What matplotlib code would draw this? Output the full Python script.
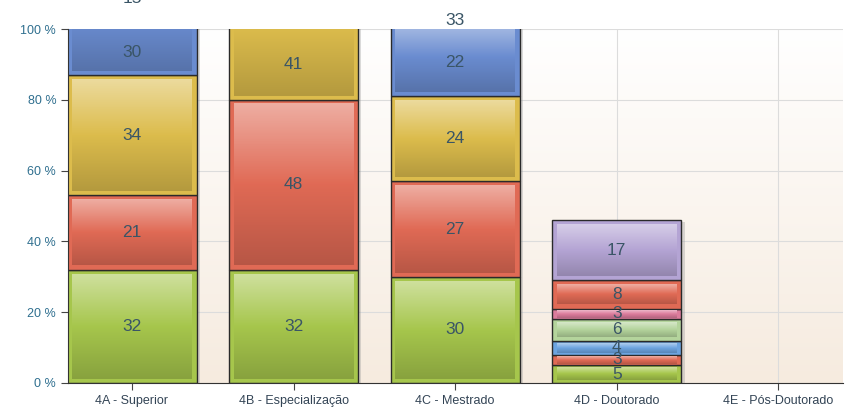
import numpy as np
import matplotlib.pyplot as plt
import matplotlib.colors as mcolors
from matplotlib.patches import Rectangle

plt.rcParams['font.family'] = ['Liberation Sans', 'DejaVu Sans']

categories = ["4A - Superior", "4B - Especialização", "4C - Mestrado", "4D - Doutorado", "4E - Pós-Doutorado"]

values_4a = [32, 21, 34, 30, 15]
values_4b = [32, 48, 41]
values_4c = [30, 27, 24, 22, 33]
values_4d = [5, 3, 4, 6, 3, 8, 17]
values_4e = []

green = "#a6c64c"
red = "#e06a55"
yellow = "#dcbc4c"
blue = "#6a8cd0"
purple = "#b4a4d4"
pink = "#dc7c9c"
lgreen = "#b4d49c"
lblue = "#6ca4e0"

colors_4a = [green, red, yellow, blue, red]
colors_4b = [green, red, yellow]
colors_4c = [green, red, yellow, blue, red]
colors_4d = [green, red, lblue, lgreen, pink, red, purple]
colors_4e = []

all_values = [values_4a, values_4b, values_4c, values_4d, values_4e]
all_colors = [colors_4a, colors_4b, colors_4c, colors_4d, colors_4e]

fig = plt.figure(figsize=(8.48, 4.09), dpi=100)
ax = fig.add_axes([0.0802, 0.0636, 0.9138, 0.8654])

xmin, xmax = -0.396, 4.40
ax.set_xlim(xmin, xmax)
ax.set_ylim(0, 100)

# background gradient white -> light peach
bg = np.linspace(0, 1, 256).reshape(-1, 1)
bg_cmap = mcolors.LinearSegmentedColormap.from_list("bg", ["#f6ebdf", "#ffffff"])
ax.imshow(bg, extent=[xmin, xmax, 0, 100], origin="lower", aspect="auto", cmap=bg_cmap, zorder=0)

ax.set_yticks([0, 20, 40, 60, 80, 100])
ax.set_yticklabels(["0 %", "20 %", "40 %", "60 %", "80 %", "100 %"])
ax.set_xticks(range(len(categories)))
ax.set_xticklabels(categories)
ax.grid(True, color="#dcdcdc", linewidth=0.8, zorder=1)
ax.set_axisbelow(True)

for s in ["top", "right"]:
    ax.spines[s].set_visible(False)
for s in ["left", "bottom"]:
    ax.spines[s].set_color("#333333")
    ax.spines[s].set_zorder(10)
ax.tick_params(axis="both", colors="#444444", labelsize=9, length=5)
ax.tick_params(axis="y", labelcolor="#2f6f8f")
ax.tick_params(axis="x", labelcolor="#334455")

width = 0.8
for i, (vals, cols) in enumerate(zip(all_values, all_colors)):
    bottom = 0
    for v, c in zip(vals, cols):
        top = bottom + v
        x0 = i - width / 2
        rgb = np.array(mcolors.to_rgb(c))
        # shadow
        ax.add_patch(Rectangle((x0 + 0.02, bottom - 0.6), width, v, facecolor="#999999",
                               alpha=0.35, edgecolor="none", zorder=2))
        ax.add_patch(Rectangle((x0, bottom), width, v, facecolor=c, edgecolor="#2a2a2a",
                               linewidth=1.0, zorder=4))
        # inner gradient highlight
        pad_x = 0.03
        pad_y = min(1.2, v * 0.15)
        grad = np.linspace(0, 1, 64).reshape(-1, 1)
        light = np.clip(rgb + (1 - rgb) * 0.45, 0, 1)
        dark = rgb * 0.82
        gcmap = mcolors.LinearSegmentedColormap.from_list("g%d" % i, [dark, rgb, light])
        ax.imshow(grad, extent=[x0 + pad_x, x0 + width - pad_x, bottom + pad_y, top - pad_y],
                  origin="lower", aspect="auto", cmap=gcmap, zorder=5)
        # label
        if bottom < 100:
            ly = (bottom + min(top, 100)) / 2
        else:
            ly = 101 + (bottom - 100) * 0.45
        ax.text(i, ly, str(v), ha="center", va="center", fontsize=12.5, color="#3a5566",
                zorder=6, clip_on=False)
        bottom = top

plt.savefig("out.png", dpi=100)
